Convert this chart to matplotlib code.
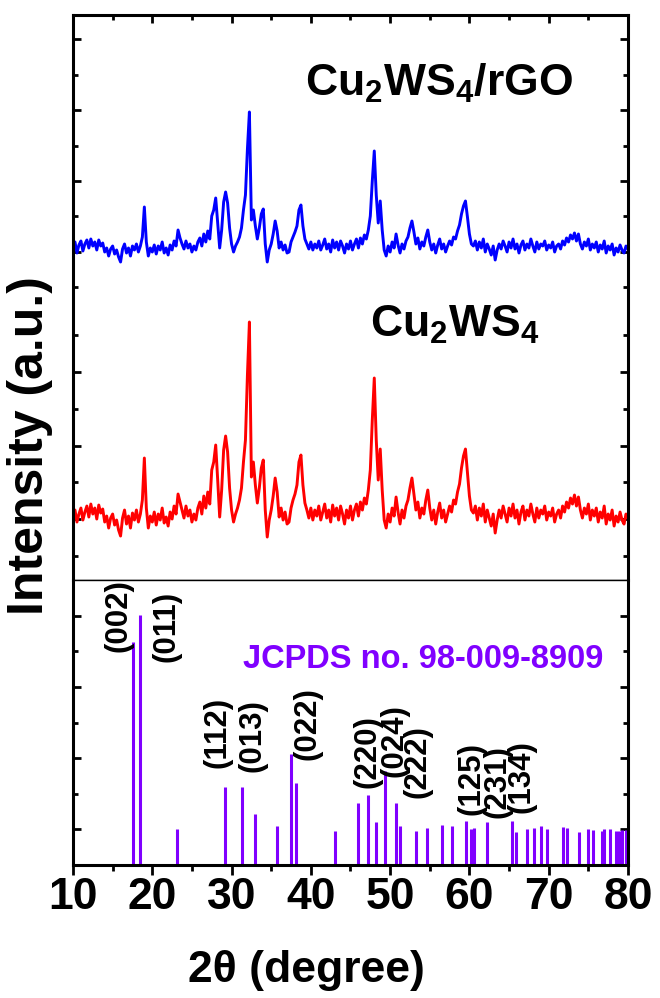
import matplotlib
matplotlib.use('Agg')
import matplotlib.pyplot as plt
import numpy as np

plt.rcParams['font.family'] = ['Liberation Sans', 'DejaVu Sans']
plt.rcParams['font.weight'] = 'bold'
plt.rcParams['mathtext.fontset'] = 'custom'
plt.rcParams['mathtext.rm'] = 'Liberation Sans:bold'
plt.rcParams['mathtext.it'] = 'Liberation Sans:bold'
plt.rcParams['mathtext.bf'] = 'Liberation Sans:bold'

# 2theta grid, 0.25 deg steps from 10 to 80
two_theta = np.arange(10, 80.001, 0.25)

# Cu2WS4 (red), arbitrary units
cu2ws4 = [
    62, 70, 58, 66, 72, 60, 68, 74,        # 10
    63, 76, 66, 72, 61, 75, 67, 71,        # 12
    58, 64, 52, 62, 66, 55, 60, 50,        # 14
    44, 62, 70, 56, 64, 52, 67, 60,        # 16
    70, 58, 66, 80, 122, 72, 52, 64,       # 18
    58, 68, 55, 66, 60, 72, 57, 63,        # 20
    54, 68, 61, 74, 66, 86, 78, 70,        # 22
    62, 74, 64, 70, 58, 66, 60, 72,        # 24
    78, 66, 84, 72, 88, 76, 110, 118,      # 26
    135, 100, 63, 90, 130, 144, 128, 92,   # 28
    70, 58, 66, 72, 80, 92, 118, 140,      # 30
    205, 258, 103, 118, 95, 77, 92, 112,   # 32
    120, 70, 43, 60, 70, 84, 102, 88,      # 34
    63, 72, 60, 68, 56, 58, 72, 80,        # 36
    86, 95, 118, 125, 95, 77, 70, 62,      # 38
    72, 60, 70, 64, 74, 60, 68, 76,        # 40
    62, 70, 58, 75, 64, 72, 60, 74,        # 42
    66, 56, 70, 62, 74, 60, 70, 76,        # 44
    64, 78, 70, 82, 76, 90, 110, 160,      # 46
    202, 140, 100, 131, 90, 60, 52, 66,    # 48
    58, 72, 64, 83, 68, 56, 70, 62,        # 50
    74, 80, 92, 102, 86, 70, 78, 62,       # 52
    72, 66, 80, 90, 72, 60, 70, 56,        # 54
    68, 77, 62, 70, 58, 66, 74, 68,        # 56
    80, 76, 88, 96, 112, 124, 131, 108,    # 58
    84, 70, 67, 74, 60, 72, 64, 76,        # 60
    58, 70, 62, 54, 66, 47, 60, 70,        # 62
    62, 74, 66, 58, 72, 64, 76, 62,        # 64
    70, 56, 68, 74, 60, 70, 64, 76,        # 66
    66, 58, 72, 62, 70, 66, 74, 60,        # 68
    68, 64, 72, 58, 66, 70, 62, 74,        # 70
    68, 78, 72, 82, 76, 85, 74, 83,        # 72
    70, 62, 72, 66, 76, 60, 70, 64,        # 74
    72, 58, 68, 62, 74, 56, 66, 60,        # 76
    70, 54, 64, 58, 68, 60, 56, 66,        # 78
    62,
]

# Cu2WS4/rGO (blue)
cu2ws4_rgo = [
    330, 338, 327, 335, 339, 329, 336, 340,   # 10
    332, 341, 334, 338, 330, 340, 334, 337,   # 12
    328, 332, 324, 331, 334, 326, 330, 323,   # 14
    318, 331, 336, 327, 332, 324, 334, 330,   # 16
    336, 328, 334, 343, 373, 338, 324, 332,   # 18
    328, 335, 326, 334, 330, 338, 327, 332,   # 20
    325, 335, 330, 339, 334, 350, 342, 336,   # 22
    331, 339, 332, 336, 328, 334, 330, 338,   # 24
    342, 334, 346, 338, 349, 341, 364, 370,   # 26
    382, 357, 332, 350, 378, 388, 377, 352,   # 28
    336, 328, 334, 338, 343, 352, 370, 385,   # 30
    431, 468, 360, 370, 354, 341, 352, 366,   # 32
    371, 336, 318, 330, 336, 346, 359, 349,   # 34
    332, 338, 330, 335, 327, 328, 338, 343,   # 36
    348, 354, 370, 375, 354, 341, 336, 331,   # 38
    338, 330, 336, 332, 339, 330, 335, 341,   # 40
    331, 336, 328, 340, 332, 338, 330, 339,   # 42
    334, 327, 336, 331, 339, 330, 336, 341,   # 44
    332, 342, 336, 345, 341, 350, 364, 399,   # 46
    429, 385, 357, 379, 350, 330, 324, 334,   # 48
    328, 338, 332, 346, 335, 327, 336, 331,   # 50
    339, 343, 352, 359, 348, 336, 342, 331,   # 52
    338, 334, 343, 350, 338, 330, 336, 327,   # 54
    335, 341, 331, 336, 328, 334, 339, 335,   # 56
    343, 341, 349, 355, 366, 374, 379, 363,   # 58
    346, 336, 334, 339, 330, 338, 332, 341,   # 60
    328, 336, 331, 325, 334, 320, 330, 336,   # 62
    331, 339, 334, 328, 338, 332, 341, 331,   # 64
    336, 327, 335, 339, 330, 336, 332, 341,   # 66
    334, 328, 338, 331, 336, 334, 339, 330,   # 68
    335, 332, 338, 328, 334, 336, 331, 339,   # 70
    335, 342, 338, 345, 341, 347, 339, 346,   # 72
    336, 331, 338, 334, 341, 330, 336, 332,   # 74
    338, 328, 335, 331, 339, 327, 334, 330,   # 76
    336, 325, 332, 328, 335, 330, 327, 334,   # 78
    331,
]

# JCPDS 98-009-8909 reference lines
ref_pos = [17.6, 18.5, 23.1, 29.17, 31.35, 32.9, 35.7, 37.5, 38.08, 43.0,
           46.0, 47.24, 48.2, 49.35, 50.7, 51.2, 53.25, 54.7, 56.57, 57.83,
           59.56, 60.15, 60.6, 62.17, 65.32, 65.82, 67.3, 68.13, 68.97, 69.8,
           71.83, 72.25, 73.8, 74.98, 75.53, 76.67, 77.0, 77.7, 78.47, 78.9,
           79.27, 79.7]
ref_int = [6.25, 7.02, 1.0, 2.18, 2.18, 1.43, 1.10, 3.11, 2.31, 0.95,
           1.75, 1.97, 1.20, 2.65, 1.73, 1.10, 0.94, 1.03, 1.12, 1.10,
           1.23, 1.0, 1.03, 1.20, 1.23, 0.92, 1.0, 1.03, 1.10, 1.01,
           1.08, 1.03, 0.92, 1.01, 0.98, 0.94, 1.0, 1.0, 0.94, 0.94,
           0.98, 0.97]

hkl_labels = ['(002)', '(011)', '(112)', '(013)', '(022)', '(220)',
              '(024)', '(222)', '(125)', '(231)', '(134)']
hkl_x = [15.7, 21.85, 28.2, 32.7, 39.6, 47.2, 50.6, 53.5, 60.3, 63.5, 66.6]
hkl_y = [5.98, 5.70, 2.72, 2.61, 2.95, 2.16, 2.47, 1.88, 1.40, 1.32, 1.46]

purple = '#8000ff'

fig = plt.figure(figsize=(6.6, 9.98), dpi=100)
ax1 = fig.add_axes([0.1106, 0.4188, 0.8409, 0.5662])
ax2 = fig.add_axes([0.1106, 0.1333, 0.8409, 0.2855])

# top panel: measured patterns
ax1.plot(two_theta, cu2ws4, color='red', lw=2.1)
ax1.plot(two_theta, cu2ws4_rgo, color='blue', lw=2.1)
ax1.set_xlim(10, 80)
ax1.set_ylim(0, 565)
ax1.text(39.25, 484, 'Cu$_2$WS$_4$/rGO', fontsize=32, fontweight='bold')
ax1.text(47.45, 243, 'Cu$_2$WS$_4$', fontsize=32, fontweight='bold')

ax1.set_xticks(np.arange(10, 81, 10))
ax1.set_xticks(np.arange(15, 80, 10), minor=True)
ax1.set_yticks([61, 134, 208, 328, 399, 470, 541])
ax1.set_yticks([24, 98, 171, 245, 293, 364, 434, 505], minor=True)
ax1.tick_params(axis='x', which='both', bottom=False, top=True, direction='in',
                labelbottom=False, width=2)
ax1.tick_params(axis='y', which='both', left=True, right=True, direction='in',
                labelleft=False, width=2)
ax1.tick_params(which='major', length=6)
ax1.tick_params(which='minor', length=3.5)
for s in ['top', 'left', 'right']:
    ax1.spines[s].set_linewidth(2.2)
ax1.spines['bottom'].set_linewidth(1.0)

# bottom panel: reference lines
ax2.vlines(ref_pos, 0, ref_int, color=purple, lw=2.2)
ax2.set_xlim(10, 80)
ax2.set_ylim(0, 8)
for lab, x, y in zip(hkl_labels, hkl_x, hkl_y):
    ax2.text(x, y, lab, rotation=90, ha='center', va='bottom',
             fontsize=22.5, fontweight='bold')
ax2.text(31.4, 5.53, 'JCPDS no. 98-009-8909', color=purple,
         fontsize=23.5, fontweight='bold')

ax2.set_xticks(np.arange(10, 81, 10))
ax2.set_xticks(np.arange(15, 80, 10), minor=True)
ax2.set_yticks([1, 3, 5, 7])
ax2.set_yticks([2, 4, 6], minor=True)
ax2.tick_params(axis='x', which='both', bottom=True, top=False, direction='out',
                width=2, labelsize=32, pad=2)
ax2.tick_params(axis='x', which='major', length=7)
ax2.tick_params(axis='x', which='minor', length=4)
ax2.tick_params(axis='y', which='both', left=True, right=True, direction='in',
                labelleft=False, width=2)
ax2.tick_params(axis='y', which='major', length=6)
ax2.tick_params(axis='y', which='minor', length=3.5)
for lbl in ax2.get_xticklabels():
    lbl.set_fontweight('bold')
for s in ['bottom', 'left', 'right']:
    ax2.spines[s].set_linewidth(2.2)
ax2.spines['top'].set_linewidth(1.0)

fig.text(0.0455, 0.554, 'Intensity (a.u.)', rotation=90, ha='center',
         va='center', fontsize=36, fontweight='bold')
fig.text(0.4636, 0.016, '2θ (degree)', ha='center', va='baseline',
         fontsize=32, fontweight='bold')

fig.savefig('out.png', dpi=100)
